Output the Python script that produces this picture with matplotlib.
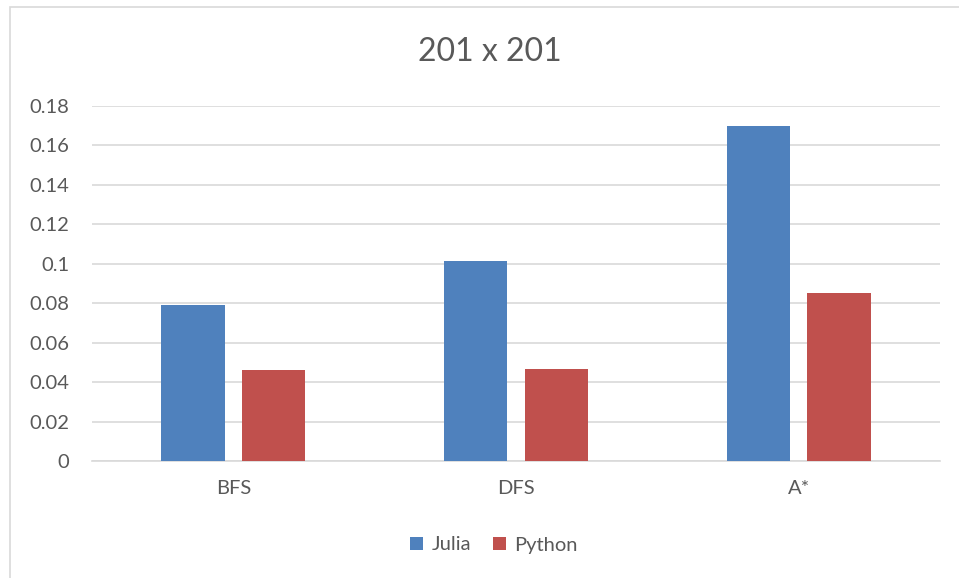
import numpy as np
import matplotlib.pyplot as plt
from matplotlib.patches import Rectangle

plt.rcParams['font.family'] = ['Lato', 'DejaVu Sans']

algorithms = ['BFS', 'DFS', 'A*']
julia_times = [0.0791, 0.1014, 0.1699]
python_times = [0.0461, 0.0466, 0.0852]
y_ticks = [0, 0.02, 0.04, 0.06, 0.08, 0.1, 0.12, 0.14, 0.16, 0.18]
y_labels = ['0', '0.02', '0.04', '0.06', '0.08', '0.1', '0.12', '0.14', '0.16', '0.18']

blue = '#4f81bd'
red = '#c0504d'
text_grey = '#595959'

fig = plt.figure(figsize=(9.59, 5.78), dpi=100)
# chart frame, running off the right and bottom edges
fig.patches.append(Rectangle((10 / 959, -0.05), 1.2, 1 - 7 / 578 + 0.05,
                             transform=fig.transFigure, fill=False,
                             edgecolor='#d9d9d9', linewidth=1.2))

ax = fig.add_axes([92 / 959, 1 - 461 / 578, (940 - 92) / 959, (461 - 106) / 578])

x = np.arange(len(algorithms))
offset = 0.143
width = 0.224
ax.bar(x - offset, julia_times, width, color=blue, label='Julia', zorder=3)
ax.bar(x + offset, python_times, width, color=red, label='Python', zorder=3)

ax.set_xlim(-0.5, 2.5)
ax.set_ylim(0, 0.18)
ax.set_yticks(y_ticks)
ax.set_yticklabels(y_labels)
ax.set_xticks(x)
ax.set_xticklabels(algorithms)
ax.yaxis.grid(True, color='#d9d9d9', linewidth=1.2, zorder=0)
ax.tick_params(axis='both', length=0, labelsize=14.5, labelcolor=text_grey)
ax.tick_params(axis='y', pad=16.5)
ax.tick_params(axis='x', pad=14)
for side in ['top', 'right', 'left']:
    ax.spines[side].set_visible(False)
ax.spines['bottom'].set_color('#d9d9d9')
ax.spines['bottom'].set_linewidth(1.2)

fig.text(490 / 959, 1 - 52 / 578, '201 x 201', ha='center', va='center',
         fontsize=23, color=text_grey)

fig.legend(loc='center', bbox_to_anchor=(494 / 959, 1 - 545 / 578), ncol=2,
           frameon=False, fontsize=14.5, labelcolor=text_grey,
           handlelength=0.65, handleheight=0.65, handletextpad=0.4,
           columnspacing=1.1)

fig.savefig('out.png', dpi=100)
